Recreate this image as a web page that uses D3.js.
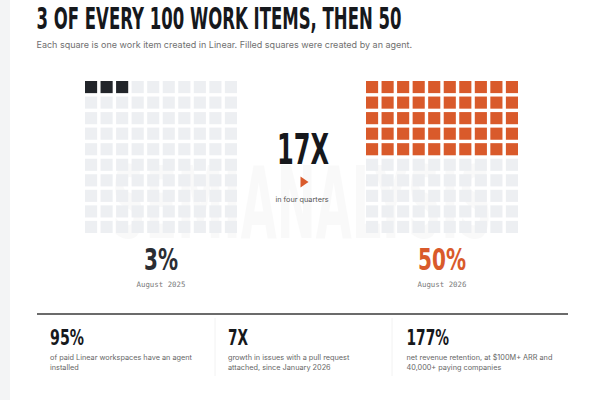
<!DOCTYPE html>
<html><head><meta charset="utf-8">
<script src="https://cdn.jsdelivr.net/npm/d3@7"></script>
<style>html,body{margin:0;padding:0;background:#fff;}svg{display:block;}</style>
</head><body>
<script>
// ---- data ----
const title = "3 OF EVERY 100 WORK ITEMS, THEN 50";
const subtitle = "Each square is one work item created in Linear. Filled squares were created by an agent.";
const shares = [3, 50];                       // filled squares out of 100
const shareLabels = ["3%", "50%"];
const periods = ["August 2025", "August 2026"];
const multiplier = "17X";
const multiplierNote = "in four quarters";
const statValues = ["95%", "7X", "177%"];
const statLines = [
  ["of paid Linear workspaces have an agent", "installed"],
  ["growth in issues with a pull request", "attached, since January 2026"],
  ["net revenue retention, at $100M+ ARR and", "40,000+ paying companies"]
];
const watermark = "SEMIANALYSIS";

// ---- styles ----
const W = 600, H = 400;
const ink = "#16181c", dark = "#22252a", orange = "#d95a2b", empty = "#eceef1";
const condensed = "'DejaVu Sans',sans-serif";
const sans = "Inter,'Noto Sans',sans-serif";
const mono = "'DejaVu Sans Mono','Liberation Mono',monospace";

const svg = d3.select("body").append("svg").attr("width", W).attr("height", H);
svg.append("rect").attr("width", W).attr("height", H).attr("fill", "#fff");
svg.append("rect").attr("width", 10).attr("height", H).attr("fill", "#f3f4f5");

function cond(sel, len) {
  return sel.attr("textLength", len).attr("lengthAdjust", "spacingAndGlyphs");
}

// title
cond(svg.append("text").attr("x", 36.5).attr("y", 28.5)
  .attr("font-family", condensed).attr("font-weight", 700).attr("font-size", 29.5)
  .attr("fill", ink).text(title), 365);
svg.append("text").attr("x", 36.5).attr("y", 48)
  .attr("font-family", sans).attr("font-size", 9).attr("fill", "#707070").text(subtitle);

// watermark
svg.append("text").attr("x", 302).attr("y", 238).attr("text-anchor", "middle")
  .attr("font-family", condensed).attr("font-weight", 700).attr("font-size", 100)
  .attr("fill", "#000").attr("opacity", 0.018)
  .attr("textLength", 380).attr("lengthAdjust", "spacingAndGlyphs").text(watermark);

// waffle grids
const gridSize = 152;
const band = d3.scaleBand().domain(d3.range(10)).range([0, gridSize]).paddingInner(0.22);
const gridX = d3.scaleOrdinal().domain([0, 1]).range([85, 366]);
const gridTop = 81;
const colors = [dark, orange];

shares.forEach((v, gi) => {
  const g = svg.append("g").attr("transform", `translate(${gridX(gi)},${gridTop})`);
  g.selectAll("rect").data(d3.range(100)).join("rect")
    .attr("x", i => band(i % 10))
    .attr("y", i => band(Math.floor(i / 10)))
    .attr("width", band.bandwidth()).attr("height", band.bandwidth())
    .attr("fill", i => i < v ? colors[gi] : empty)
    .attr("opacity", i => i < v ? 1 : 0.92);
  const cx = gridX(gi) + gridSize / 2;
  cond(svg.append("text").attr("x", cx).attr("y", 269.5).attr("text-anchor", "middle")
    .attr("font-family", condensed).attr("font-weight", 700).attr("font-size", 30)
    .attr("fill", gi === 0 ? "#2a2d33" : orange).text(shareLabels[gi]), gi === 0 ? 34 : 48);
  svg.append("text").attr("x", cx).attr("y", 287).attr("text-anchor", "middle")
    .attr("font-family", mono).attr("font-size", 7.4).attr("fill", "#7a7a7a").text(periods[gi]);
});

// center multiplier
cond(svg.append("text").attr("x", 303).attr("y", 163.5).attr("text-anchor", "middle")
  .attr("font-family", condensed).attr("font-weight", 700).attr("font-size", 42)
  .attr("fill", ink).text(multiplier), 52);
const tri = d3.path();
tri.moveTo(300.5, 176.5); tri.lineTo(308.5, 182); tri.lineTo(300.5, 187.5); tri.closePath();
svg.append("path").attr("d", tri.toString()).attr("fill", orange);
svg.append("text").attr("x", 302).attr("y", 201.5).attr("text-anchor", "middle")
  .attr("font-family", sans).attr("font-size", 7.3).attr("fill", "#555").text(multiplierNote);

// bottom stats
svg.append("line").attr("x1", 37).attr("x2", 568).attr("y1", 314).attr("y2", 314)
  .attr("stroke", "#3a3a3a").attr("stroke-width", 1.5);
const statX = d3.scaleOrdinal().domain([0, 1, 2]).range([50, 228, 406.5]);
const statW = [34, 20, 42.5];
[215, 392].forEach(x => svg.append("line").attr("x1", x).attr("x2", x)
  .attr("y1", 318).attr("y2", 376).attr("stroke", "#f2f2f2").attr("stroke-width", 1));
statValues.forEach((v, i) => {
  cond(svg.append("text").attr("x", statX(i)).attr("y", 344.5)
    .attr("font-family", condensed).attr("font-weight", 700).attr("font-size", 22)
    .attr("fill", ink).text(v), statW[i]);
  statLines[i].forEach((t, j) => svg.append("text").attr("x", statX(i)).attr("y", 359.5 + j * 10)
    .attr("font-family", sans).attr("font-size", 7.3).attr("fill", "#666").text(t));
});
</script>
</body></html>
